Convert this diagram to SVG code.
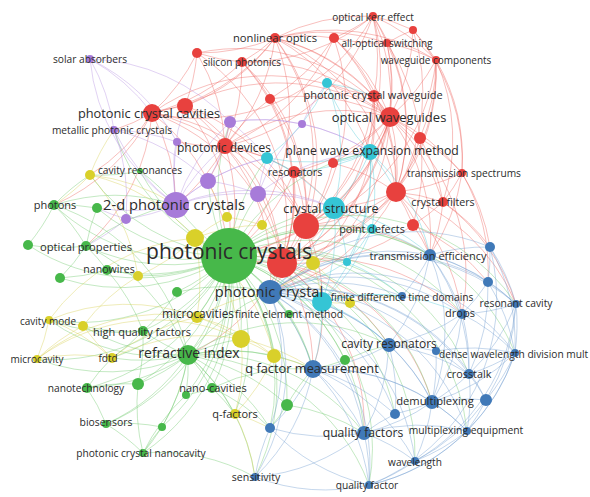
<svg xmlns="http://www.w3.org/2000/svg" width="590" height="497" viewBox="0 0 590 497">
<style>
#connectors path{fill:none;stroke-width:1;stroke-opacity:.4}
.er path{stroke:#ee5f5b}.eg path{stroke:#6cc86a}.eb path{stroke:#6f9ccf}.ey path{stroke:#d6d050}.ep path{stroke:#b38ee2}.ec path{stroke:#4fcbd9}
.r{fill:#e8413e}.g{fill:#47b84a}.b{fill:#4079b8}.y{fill:#d9d02a}.p{fill:#a77bd9}.c{fill:#35c5d5}
text{font-family:"Open Sans","Liberation Sans",sans-serif;fill:#2b2b2b;text-anchor:middle;font-size:10.2px}
</style>
<rect width="590" height="497" fill="#fff"/>
<g id="connectors">
<g class="er">
<path d="M275 38A200 200 0 0 1 373 16"/><path d="M275 38A200 200 0 0 1 334 38"/><path d="M275 38A200 200 0 0 1 387 43"/><path d="M275 38A200 200 0 0 1 436 60"/><path d="M275 38A200 200 0 0 1 242 62"/><path d="M275 38A200 200 0 0 1 152 113"/><path d="M275 38A200 200 0 0 1 390 117"/><path d="M275 38A200 200 0 0 1 225 146"/><path d="M275 38A200 200 0 0 1 306 226"/><path d="M275 38A200 200 0 0 1 282 263"/><path d="M275 38A200 200 0 0 1 396 192"/><path d="M275 38A200 200 0 0 1 229 256"/><path d="M275 38A200 200 0 0 1 374 96"/><path d="M275 38A200 200 0 0 1 185 106"/><path d="M275 38A200 200 0 0 1 197 53"/><path d="M275 38A200 200 0 0 1 370 152"/>
<path d="M373 16A200 200 0 0 1 334 38"/><path d="M373 16A200 200 0 0 1 387 43"/><path d="M373 16A200 200 0 0 1 413 30"/><path d="M373 16A200 200 0 0 1 390 117"/><path d="M373 16A200 200 0 0 1 374 96"/><path d="M373 16A200 200 0 0 1 225 146"/><path d="M373 16A200 200 0 0 1 396 192"/><path d="M373 16A200 200 0 0 1 306 226"/><path d="M373 16A200 200 0 0 1 436 60"/><path d="M373 16A200 200 0 0 1 242 62"/><path d="M373 16A200 200 0 0 1 152 113"/>
<path d="M387 43A200 200 0 0 1 413 30"/><path d="M387 43A200 200 0 0 1 436 60"/><path d="M387 43A200 200 0 0 1 390 117"/><path d="M387 43A200 200 0 0 1 396 192"/><path d="M387 43A200 200 0 0 1 282 263"/><path d="M387 43A200 200 0 0 1 420 138"/><path d="M387 43A200 200 0 0 1 334 38"/>
<path d="M334 38A200 200 0 0 1 390 117"/><path d="M334 38A200 200 0 0 1 306 226"/><path d="M334 38A200 200 0 0 1 225 146"/><path d="M334 38A200 200 0 0 1 374 96"/><path d="M334 38A200 200 0 0 1 396 192"/><path d="M334 38A200 200 0 0 1 270 99"/>
<path d="M413 30A200 200 0 0 1 436 60"/><path d="M413 30A200 200 0 0 1 390 117"/><path d="M413 30A200 200 0 0 1 396 192"/><path d="M413 30A200 200 0 0 1 462 173"/>
<path d="M436 60A200 200 0 0 1 390 117"/><path d="M436 60A200 200 0 0 1 396 192"/><path d="M436 60A200 200 0 0 1 462 173"/><path d="M436 60A200 200 0 0 1 420 138"/><path d="M436 60A200 200 0 0 1 306 226"/><path d="M436 60A200 200 0 0 1 443 202"/><path d="M436 60A200 200 0 0 1 282 263"/>
<path d="M242 62A200 200 0 0 1 197 53"/><path d="M242 62A200 200 0 0 1 152 113"/><path d="M242 62A200 200 0 0 1 225 146"/><path d="M242 62A200 200 0 0 1 390 117"/><path d="M242 62A200 200 0 0 1 306 226"/><path d="M242 62A200 200 0 0 1 282 263"/><path d="M242 62A200 200 0 0 1 270 99"/>
<path d="M197 53A200 200 0 0 1 152 113"/><path d="M197 53A200 200 0 0 1 225 146"/><path d="M197 53A200 200 0 0 1 282 263"/><path d="M197 53A200 200 0 0 1 390 117"/><path d="M197 53A200 200 0 0 1 185 106"/>
<path d="M152 113A200 200 0 0 1 185 106"/><path d="M152 113A200 200 0 0 1 225 146"/><path d="M152 113A200 200 0 0 1 176 205"/><path d="M152 113A200 200 0 0 1 229 256"/><path d="M152 113A200 200 0 0 1 282 263"/><path d="M152 113A200 200 0 0 1 306 226"/><path d="M152 113A200 200 0 0 1 390 117"/><path d="M152 113A200 200 0 0 1 114 130"/><path d="M152 113A200 200 0 0 1 90 175"/><path d="M152 113A200 200 0 0 1 86 246"/><path d="M152 113A200 200 0 0 1 54 205"/>
<path d="M185 106A200 200 0 0 1 225 146"/><path d="M185 106A200 200 0 0 1 306 226"/><path d="M185 106A200 200 0 0 1 282 263"/><path d="M185 106A200 200 0 0 1 390 117"/><path d="M185 106A200 200 0 0 1 229 256"/>
<path d="M374 96A200 200 0 0 1 390 117"/><path d="M374 96A200 200 0 0 1 370 152"/><path d="M374 96A200 200 0 0 1 396 192"/><path d="M374 96A200 200 0 0 1 306 226"/><path d="M374 96A200 200 0 0 1 327 83"/><path d="M374 96A200 200 0 0 1 282 263"/><path d="M374 96A200 200 0 0 1 270 292"/>
<path d="M390 117A200 200 0 0 1 420 138"/><path d="M390 117A200 200 0 0 1 370 152"/><path d="M390 117A200 200 0 0 1 396 192"/><path d="M390 117A200 200 0 0 1 443 202"/><path d="M390 117A200 200 0 0 1 306 226"/><path d="M390 117A200 200 0 0 1 282 263"/><path d="M390 117A200 200 0 0 1 294 172"/><path d="M390 117A200 200 0 0 1 462 173"/><path d="M390 117A200 200 0 0 1 229 256"/><path d="M390 117A200 200 0 0 1 270 292"/><path d="M390 117A200 200 0 0 1 430 255"/><path d="M390 117A200 200 0 0 1 334 208"/><path d="M390 117A200 200 0 0 1 333 163"/><path d="M390 117A200 200 0 0 1 462 314"/>
<path d="M420 138A200 200 0 0 1 396 192"/><path d="M420 138A200 200 0 0 1 462 173"/><path d="M420 138A200 200 0 0 1 443 202"/><path d="M420 138A200 200 0 0 1 413 225"/>
<path d="M225 146A200 200 0 0 1 230 122"/><path d="M225 146A200 200 0 0 1 208 181"/><path d="M225 146A200 200 0 0 1 306 226"/><path d="M225 146A200 200 0 0 1 282 263"/><path d="M225 146A200 200 0 0 1 229 256"/><path d="M225 146A200 200 0 0 1 176 205"/><path d="M225 146A200 200 0 0 1 294 172"/><path d="M225 146A200 200 0 0 1 267 158"/><path d="M225 146A200 200 0 0 1 390 117"/><path d="M225 146A200 200 0 0 1 270 292"/><path d="M225 146A200 200 0 0 1 270 99"/><path d="M225 146A200 200 0 0 1 177 142"/>
<path d="M270 99A200 200 0 0 1 306 226"/><path d="M270 99A200 200 0 0 1 390 117"/><path d="M270 99A200 200 0 0 1 282 263"/>
<path d="M333 163A200 200 0 0 1 306 226"/><path d="M333 163A200 200 0 0 1 396 192"/>
<path d="M294 172A200 200 0 0 1 306 226"/><path d="M294 172A200 200 0 0 1 282 263"/><path d="M294 172A200 200 0 0 1 334 208"/><path d="M294 172A200 200 0 0 1 229 256"/>
<path d="M462 173A200 200 0 0 1 396 192"/><path d="M462 173A200 200 0 0 1 443 202"/><path d="M462 173A200 200 0 0 1 430 255"/><path d="M462 173A200 200 0 0 1 490 247"/><path d="M462 173A200 200 0 0 1 488 282"/>
<path d="M396 192A200 200 0 0 1 443 202"/><path d="M396 192A200 200 0 0 1 413 225"/><path d="M396 192A200 200 0 0 1 306 226"/><path d="M396 192A200 200 0 0 1 282 263"/><path d="M396 192A200 200 0 0 1 334 208"/><path d="M396 192A200 200 0 0 1 430 255"/><path d="M396 192A200 200 0 0 1 270 292"/><path d="M396 192A200 200 0 0 1 229 256"/><path d="M396 192A200 200 0 0 1 516 304"/><path d="M396 192A200 200 0 0 1 462 314"/>
<path d="M443 202A200 200 0 0 1 413 225"/><path d="M443 202A200 200 0 0 1 430 255"/><path d="M443 202A200 200 0 0 1 490 247"/><path d="M443 202A200 200 0 0 1 516 304"/>
<path d="M413 225A200 200 0 0 1 282 263"/><path d="M413 225A200 200 0 0 1 430 255"/><path d="M413 225A200 200 0 0 1 488 282"/>
<path d="M306 226A200 200 0 0 1 229 256"/><path d="M306 226A200 200 0 0 1 282 263"/><path d="M306 226A200 200 0 0 1 270 292"/><path d="M306 226A200 200 0 0 1 334 208"/><path d="M306 226A200 200 0 0 1 313 263"/><path d="M306 226A200 200 0 0 1 430 255"/><path d="M306 226A200 200 0 0 1 313 369"/>
<path d="M282 263A200 200 0 0 1 229 256"/><path d="M282 263A200 200 0 0 1 270 292"/><path d="M282 263A200 200 0 0 1 188 355"/><path d="M282 263A200 200 0 0 1 313 369"/><path d="M282 263A200 200 0 0 1 389 345"/><path d="M282 263A200 200 0 0 1 432 402"/><path d="M282 263A200 200 0 0 1 462 314"/><path d="M282 263A200 200 0 0 1 364 433"/><path d="M282 263A200 200 0 0 1 322 302"/>
</g>
<g class="eg">
<path d="M229 256A200 200 0 0 1 176 205"/><path d="M229 256A200 200 0 0 1 188 355"/><path d="M229 256A200 200 0 0 1 270 292"/><path d="M229 256A200 200 0 0 1 195 238"/><path d="M229 256A200 200 0 0 1 241 339"/><path d="M229 256A200 200 0 0 1 197 317"/><path d="M229 256A200 200 0 0 1 54 205"/><path d="M229 256A200 200 0 0 1 86 246"/><path d="M229 256A200 200 0 0 1 107 270"/><path d="M229 256A200 200 0 0 1 87 388"/><path d="M229 256A200 200 0 0 1 212 388"/><path d="M229 256A200 200 0 0 1 106 424"/><path d="M229 256A200 200 0 0 1 143 453"/><path d="M229 256A200 200 0 0 1 235 414"/><path d="M229 256A200 200 0 0 1 313 369"/><path d="M229 256A200 200 0 0 1 364 433"/><path d="M229 256A200 200 0 0 1 389 345"/><path d="M229 256A200 200 0 0 1 432 402"/><path d="M229 256A200 200 0 0 1 255 477"/><path d="M229 256A200 200 0 0 1 143 331"/><path d="M229 256A200 200 0 0 1 112 358"/><path d="M229 256A200 200 0 0 1 37 359"/><path d="M229 256A200 200 0 0 1 49 320"/><path d="M229 256A200 200 0 0 1 97 208"/><path d="M229 256A200 200 0 0 1 28 245"/><path d="M229 256A200 200 0 0 1 60 278"/><path d="M229 256A200 200 0 0 1 138 384"/><path d="M229 256A200 200 0 0 1 186 395"/><path d="M229 256A200 200 0 0 1 162 427"/><path d="M229 256A200 200 0 0 1 177 292"/><path d="M229 256A200 200 0 0 1 345 360"/><path d="M229 256A200 200 0 0 1 287 405"/><path d="M229 256A200 200 0 0 1 270 428"/><path d="M229 256A200 200 0 0 1 322 302"/><path d="M229 256A200 200 0 0 1 402 296"/><path d="M229 256A200 200 0 0 1 334 208"/><path d="M229 256A200 200 0 0 1 208 181"/><path d="M229 256A200 200 0 0 1 258 194"/><path d="M229 256A200 200 0 0 1 90 175"/><path d="M229 256A200 200 0 0 1 140 171"/><path d="M229 256A200 200 0 0 1 114 130"/><path d="M229 256A200 200 0 0 1 462 314"/><path d="M229 256A200 200 0 0 1 516 304"/><path d="M229 256A200 200 0 0 1 469 374"/><path d="M229 256A200 200 0 0 1 515 353"/><path d="M229 256A200 200 0 0 1 369 485"/><path d="M229 256A200 200 0 0 1 415 461"/><path d="M229 256A200 200 0 0 1 430 255"/><path d="M229 256A200 200 0 0 1 370 152"/><path d="M229 256A200 200 0 0 1 230 122"/><path d="M229 256A200 200 0 0 1 267 158"/><path d="M229 256A200 200 0 0 1 138 276"/><path d="M229 256A200 200 0 0 1 274 356"/><path d="M229 256A200 200 0 0 1 395 414"/><path d="M229 256A200 200 0 0 1 467 431"/><path d="M229 256A200 200 0 0 1 372 229"/><path d="M229 256A200 200 0 0 1 347 262"/><path d="M229 256A200 200 0 0 1 289 314"/>
<path d="M188 355A200 200 0 0 1 87 388"/><path d="M188 355A200 200 0 0 1 138 384"/><path d="M188 355A200 200 0 0 1 212 388"/><path d="M188 355A200 200 0 0 1 186 395"/><path d="M188 355A200 200 0 0 1 106 424"/><path d="M188 355A200 200 0 0 1 162 427"/><path d="M188 355A200 200 0 0 1 143 453"/><path d="M188 355A200 200 0 0 1 241 339"/><path d="M188 355A200 200 0 0 1 274 356"/><path d="M188 355A200 200 0 0 1 313 369"/><path d="M188 355A200 200 0 0 1 270 292"/><path d="M188 355A200 200 0 0 1 112 358"/><path d="M188 355A200 200 0 0 1 37 359"/><path d="M188 355A200 200 0 0 1 49 320"/><path d="M188 355A200 200 0 0 1 83 326"/><path d="M188 355A200 200 0 0 1 143 331"/><path d="M188 355A200 200 0 0 1 364 433"/><path d="M188 355A200 200 0 0 1 255 477"/><path d="M188 355A200 200 0 0 1 270 428"/><path d="M188 355A200 200 0 0 1 287 405"/><path d="M188 355A200 200 0 0 1 369 485"/><path d="M188 355A200 200 0 0 1 389 345"/><path d="M188 355A200 200 0 0 1 235 414"/>
<path d="M54 205A200 200 0 0 1 97 208"/><path d="M54 205A200 200 0 0 1 176 205"/><path d="M54 205A200 200 0 0 1 86 246"/><path d="M54 205A200 200 0 0 1 28 245"/><path d="M54 205A200 200 0 0 1 188 355"/><path d="M54 205A200 200 0 0 1 90 175"/>
<path d="M86 246A200 200 0 0 1 28 245"/><path d="M86 246A200 200 0 0 1 107 270"/><path d="M86 246A200 200 0 0 1 60 278"/><path d="M86 246A200 200 0 0 1 176 205"/><path d="M86 246A200 200 0 0 1 188 355"/><path d="M86 246A200 200 0 0 1 97 208"/>
<path d="M107 270A200 200 0 0 1 60 278"/><path d="M107 270A200 200 0 0 1 138 276"/><path d="M107 270A200 200 0 0 1 143 331"/>
<path d="M143 331A200 200 0 0 1 83 326"/><path d="M143 331A200 200 0 0 1 112 358"/><path d="M143 331A200 200 0 0 1 138 384"/><path d="M143 331A200 200 0 0 1 49 320"/>
<path d="M87 388A200 200 0 0 1 138 384"/><path d="M87 388A200 200 0 0 1 106 424"/><path d="M87 388A200 200 0 0 1 112 358"/>
<path d="M106 424A200 200 0 0 1 162 427"/><path d="M106 424A200 200 0 0 1 143 453"/>
<path d="M143 453A200 200 0 0 1 162 427"/><path d="M143 453A200 200 0 0 1 186 395"/><path d="M143 453A200 200 0 0 1 138 384"/><path d="M143 453A200 200 0 0 1 255 477"/>
<path d="M287 405A200 200 0 0 1 313 369"/><path d="M287 405A200 200 0 0 1 364 433"/><path d="M287 405A200 200 0 0 1 270 428"/>
<path d="M345 360A200 200 0 0 1 313 369"/><path d="M345 360A200 200 0 0 1 389 345"/>
<path d="M177 292A200 200 0 0 1 143 331"/><path d="M177 292A200 200 0 0 1 270 292"/>
<path d="M140 171A200 200 0 0 1 90 175"/><path d="M140 171A200 200 0 0 1 176 205"/>
<path d="M212 388A200 200 0 0 1 186 395"/><path d="M212 388A200 200 0 0 1 235 414"/><path d="M212 388A200 200 0 0 1 313 369"/><path d="M212 388A200 200 0 0 1 270 428"/>
<path d="M289 314A200 200 0 0 1 270 292"/><path d="M289 314A200 200 0 0 1 313 369"/>
</g>
<g class="ey">
<path d="M90 175A200 200 0 0 1 176 205"/><path d="M90 175A200 200 0 0 1 54 205"/><path d="M90 175A200 200 0 0 1 195 238"/><path d="M90 175A200 200 0 0 1 114 130"/><path d="M90 175A200 200 0 0 1 138 276"/>
<path d="M49 320A200 200 0 0 1 83 326"/><path d="M49 320A200 200 0 0 1 37 359"/><path d="M49 320A200 200 0 0 1 112 358"/><path d="M49 320A200 200 0 0 1 195 238"/><path d="M49 320A200 200 0 0 1 197 317"/>
<path d="M37 359A200 200 0 0 1 83 326"/><path d="M37 359A200 200 0 0 1 112 358"/><path d="M37 359A200 200 0 0 1 241 339"/><path d="M37 359A200 200 0 0 1 197 317"/>
<path d="M112 358A200 200 0 0 1 241 339"/><path d="M112 358A200 200 0 0 1 197 317"/><path d="M112 358A200 200 0 0 1 83 326"/>
<path d="M195 238A200 200 0 0 1 197 317"/><path d="M195 238A200 200 0 0 1 241 339"/><path d="M195 238A200 200 0 0 1 274 356"/><path d="M195 238A200 200 0 0 1 138 276"/><path d="M195 238A200 200 0 0 1 227 217"/><path d="M195 238A200 200 0 0 1 262 225"/>
<path d="M197 317A200 200 0 0 1 241 339"/><path d="M197 317A200 200 0 0 1 274 356"/><path d="M197 317A200 200 0 0 1 270 292"/>
<path d="M241 339A200 200 0 0 1 274 356"/><path d="M241 339A200 200 0 0 1 313 369"/><path d="M241 339A200 200 0 0 1 235 414"/>
<path d="M274 356A200 200 0 0 1 313 369"/><path d="M274 356A200 200 0 0 1 235 414"/>
<path d="M235 414A200 200 0 0 1 270 428"/><path d="M235 414A200 200 0 0 1 255 477"/>
<path d="M313 263A200 200 0 0 1 322 302"/><path d="M313 263A200 200 0 0 1 350 303"/><path d="M313 263A200 200 0 0 1 270 292"/><path d="M313 263A200 200 0 0 1 262 225"/>
<path d="M350 303A200 200 0 0 1 402 296"/><path d="M350 303A200 200 0 0 1 322 302"/>
<path d="M227 217A200 200 0 0 1 262 225"/><path d="M227 217A200 200 0 0 1 208 181"/><path d="M83 326A200 200 0 0 1 138 276"/>
</g>
<g class="ep">
<path d="M176 205A200 200 0 0 1 90 59"/><path d="M176 205A200 200 0 0 1 114 130"/><path d="M176 205A200 200 0 0 1 230 122"/><path d="M176 205A200 200 0 0 1 208 181"/><path d="M176 205A200 200 0 0 1 258 194"/><path d="M176 205A200 200 0 0 1 177 142"/><path d="M176 205A200 200 0 0 1 126 219"/><path d="M176 205A200 200 0 0 1 97 208"/><path d="M176 205A200 200 0 0 1 225 146"/><path d="M176 205A200 200 0 0 1 185 106"/><path d="M176 205A200 200 0 0 1 267 158"/><path d="M176 205A200 200 0 0 1 334 208"/>
<path d="M90 59A200 200 0 0 1 114 130"/><path d="M90 59A200 200 0 0 1 177 142"/><path d="M90 59A200 200 0 0 1 230 122"/><path d="M90 59A200 200 0 0 1 152 113"/>
<path d="M114 130A200 200 0 0 1 177 142"/><path d="M114 130A200 200 0 0 1 208 181"/><path d="M114 130A200 200 0 0 1 126 219"/>
<path d="M230 122A200 200 0 0 1 302 124"/><path d="M230 122A200 200 0 0 1 208 181"/><path d="M230 122A200 200 0 0 1 267 158"/><path d="M230 122A200 200 0 0 1 370 152"/>
<path d="M208 181A200 200 0 0 1 258 194"/><path d="M208 181A200 200 0 0 1 267 158"/>
<path d="M258 194A200 200 0 0 1 267 158"/><path d="M258 194A200 200 0 0 1 334 208"/><path d="M258 194A200 200 0 0 1 370 152"/><path d="M258 194A200 200 0 0 1 302 124"/>
<path d="M302 124A200 200 0 0 1 370 152"/><path d="M302 124A200 200 0 0 1 327 83"/>
<path d="M126 219A200 200 0 0 1 97 208"/><path d="M126 219A200 200 0 0 1 86 246"/>
</g>
<g class="ec">
<path d="M370 152A200 200 0 0 1 327 83"/><path d="M370 152A200 200 0 0 1 267 158"/><path d="M370 152A200 200 0 0 1 334 208"/><path d="M370 152A200 200 0 0 1 372 229"/><path d="M370 152A200 200 0 0 1 347 262"/><path d="M370 152A200 200 0 0 1 322 302"/><path d="M370 152A200 200 0 0 1 396 192"/><path d="M370 152A200 200 0 0 1 294 172"/><path d="M370 152A200 200 0 0 1 333 163"/><path d="M370 152A200 200 0 0 1 430 255"/>
<path d="M327 83A200 200 0 0 1 267 158"/><path d="M327 83A200 200 0 0 1 334 208"/><path d="M327 83A200 200 0 0 1 374 96"/>
<path d="M267 158A200 200 0 0 1 334 208"/><path d="M267 158A200 200 0 0 1 294 172"/>
<path d="M334 208A200 200 0 0 1 372 229"/><path d="M334 208A200 200 0 0 1 347 262"/><path d="M334 208A200 200 0 0 1 322 302"/><path d="M334 208A200 200 0 0 1 430 255"/><path d="M334 208A200 200 0 0 1 270 292"/>
<path d="M372 229A200 200 0 0 1 347 262"/><path d="M372 229A200 200 0 0 1 430 255"/><path d="M372 229A200 200 0 0 1 322 302"/>
<path d="M322 302A200 200 0 0 1 402 296"/><path d="M322 302A200 200 0 0 1 270 292"/><path d="M322 302A200 200 0 0 1 462 314"/><path d="M322 302A200 200 0 0 1 389 345"/><path d="M322 302A200 200 0 0 1 313 369"/>
<path d="M347 262A200 200 0 0 1 270 292"/><path d="M347 262A200 200 0 0 1 402 296"/>
</g>
<g class="eb">
<path d="M270 292A200 200 0 0 1 430 255"/><path d="M270 292A200 200 0 0 1 490 247"/><path d="M270 292A200 200 0 0 1 488 282"/><path d="M270 292A200 200 0 0 1 462 314"/><path d="M270 292A200 200 0 0 1 402 296"/><path d="M270 292A200 200 0 0 1 389 345"/><path d="M270 292A200 200 0 0 1 313 369"/><path d="M270 292A200 200 0 0 1 432 402"/><path d="M270 292A200 200 0 0 1 364 433"/><path d="M270 292A200 200 0 0 1 469 374"/><path d="M270 292A200 200 0 0 1 395 414"/><path d="M270 292A200 200 0 0 1 270 428"/><path d="M270 292A200 200 0 0 1 255 477"/><path d="M270 292A200 200 0 0 1 369 485"/><path d="M270 292A200 200 0 0 1 415 461"/><path d="M270 292A200 200 0 0 1 467 431"/><path d="M270 292A200 200 0 0 1 515 353"/><path d="M270 292A200 200 0 0 1 436 351"/><path d="M270 292A200 200 0 0 1 486 400"/><path d="M270 292A200 200 0 0 1 516 304"/>
<path d="M430 255A200 200 0 0 1 490 247"/><path d="M430 255A200 200 0 0 1 488 282"/><path d="M430 255A200 200 0 0 1 516 304"/><path d="M430 255A200 200 0 0 1 462 314"/><path d="M430 255A200 200 0 0 1 402 296"/><path d="M430 255A200 200 0 0 1 389 345"/><path d="M430 255A200 200 0 0 1 469 374"/><path d="M430 255A200 200 0 0 1 432 402"/>
<path d="M490 247A200 200 0 0 1 488 282"/><path d="M490 247A200 200 0 0 1 516 304"/><path d="M490 247A200 200 0 0 1 515 353"/><path d="M490 247A200 200 0 0 1 369 485"/>
<path d="M488 282A200 200 0 0 1 516 304"/><path d="M488 282A200 200 0 0 1 462 314"/><path d="M488 282A200 200 0 0 1 515 353"/><path d="M488 282A200 200 0 0 1 469 374"/>
<path d="M516 304A200 200 0 0 1 462 314"/><path d="M516 304A200 200 0 0 1 515 353"/><path d="M516 304A200 200 0 0 1 469 374"/><path d="M516 304A200 200 0 0 1 486 400"/><path d="M516 304A200 200 0 0 1 415 461"/>
<path d="M462 314A200 200 0 0 1 389 345"/><path d="M462 314A200 200 0 0 1 436 351"/><path d="M462 314A200 200 0 0 1 469 374"/><path d="M462 314A200 200 0 0 1 432 402"/><path d="M462 314A200 200 0 0 1 515 353"/>
<path d="M389 345A200 200 0 0 1 436 351"/><path d="M389 345A200 200 0 0 1 313 369"/><path d="M389 345A200 200 0 0 1 469 374"/><path d="M389 345A200 200 0 0 1 432 402"/><path d="M389 345A200 200 0 0 1 364 433"/><path d="M389 345A200 200 0 0 1 395 414"/>
<path d="M436 351A200 200 0 0 1 515 353"/><path d="M436 351A200 200 0 0 1 469 374"/><path d="M436 351A200 200 0 0 1 432 402"/>
<path d="M515 353A200 200 0 0 1 469 374"/><path d="M515 353A200 200 0 0 1 486 400"/><path d="M515 353A200 200 0 0 1 467 431"/><path d="M515 353A200 200 0 0 1 432 402"/><path d="M515 353A200 200 0 0 1 369 485"/>
<path d="M313 369A200 200 0 0 1 432 402"/><path d="M313 369A200 200 0 0 1 364 433"/><path d="M313 369A200 200 0 0 1 395 414"/><path d="M313 369A200 200 0 0 1 270 428"/><path d="M313 369A200 200 0 0 1 255 477"/><path d="M313 369A200 200 0 0 1 415 461"/><path d="M313 369A200 200 0 0 1 369 485"/><path d="M313 369A200 200 0 0 1 467 431"/>
<path d="M469 374A200 200 0 0 1 432 402"/><path d="M469 374A200 200 0 0 1 486 400"/><path d="M469 374A200 200 0 0 1 467 431"/>
<path d="M432 402A200 200 0 0 1 486 400"/><path d="M432 402A200 200 0 0 1 395 414"/><path d="M432 402A200 200 0 0 1 364 433"/><path d="M432 402A200 200 0 0 1 467 431"/><path d="M432 402A200 200 0 0 1 415 461"/>
<path d="M486 400A200 200 0 0 1 467 431"/><path d="M486 400A200 200 0 0 1 415 461"/>
<path d="M364 433A200 200 0 0 1 467 431"/><path d="M364 433A200 200 0 0 1 415 461"/><path d="M364 433A200 200 0 0 1 369 485"/><path d="M364 433A200 200 0 0 1 255 477"/><path d="M364 433A200 200 0 0 1 270 428"/><path d="M364 433A200 200 0 0 1 395 414"/>
<path d="M467 431A200 200 0 0 1 415 461"/><path d="M467 431A200 200 0 0 1 369 485"/>
<path d="M415 461A200 200 0 0 1 369 485"/>
<path d="M369 485A200 200 0 0 1 255 477"/><path d="M369 485A200 200 0 0 1 270 428"/>
<path d="M255 477A200 200 0 0 1 270 428"/>
</g>
</g>
<g id="nodes">
<g id="n-r4"><circle class="r" cx="334" cy="38" r="5"/></g>
<g id="n-r5"><circle class="r" cx="413" cy="30" r="4"/></g>
<g id="n-r8"><circle class="r" cx="197" cy="53" r="5"/></g>
<g id="n-r10"><circle class="r" cx="185" cy="106" r="8"/></g>
<g id="n-r13"><circle class="r" cx="420" cy="138" r="6"/></g>
<g id="n-r15"><circle class="r" cx="270" cy="99" r="5"/></g>
<g id="n-r16"><circle class="r" cx="333" cy="163" r="5"/></g>
<g id="n-r19"><circle class="r" cx="396" cy="192" r="10"/></g>
<g id="n-r21"><circle class="r" cx="413" cy="225" r="6"/></g>
<g id="n-r22"><circle class="r" cx="306" cy="226" r="13"/></g>
<g id="n-r23"><circle class="r" cx="282" cy="263" r="15"/></g>
<g id="n-g3"><circle class="g" cx="97" cy="208" r="5"/></g>
<g id="n-g5"><circle class="g" cx="28" cy="245" r="5"/></g>
<g id="n-g7"><circle class="g" cx="60" cy="278" r="5"/></g>
<g id="n-g12"><circle class="g" cx="138" cy="384" r="6"/></g>
<g id="n-g14"><circle class="g" cx="186" cy="395" r="4"/></g>
<g id="n-g16"><circle class="g" cx="162" cy="427" r="4"/></g>
<g id="n-g18"><circle class="g" cx="177" cy="292" r="5"/></g>
<g id="n-g19"><circle class="g" cx="345" cy="360" r="5"/></g>
<g id="n-g20"><circle class="g" cx="287" cy="405" r="6"/></g>
<g id="n-y1"><circle class="y" cx="90" cy="175" r="5"/></g>
<g id="n-y3"><circle class="y" cx="83" cy="326" r="5"/></g>
<g id="n-y6"><circle class="y" cx="138" cy="276" r="5"/></g>
<g id="n-y7"><circle class="y" cx="227" cy="217" r="5"/></g>
<g id="n-y8"><circle class="y" cx="262" cy="225" r="5"/></g>
<g id="n-y9"><circle class="y" cx="195" cy="238" r="9"/></g>
<g id="n-y10"><circle class="y" cx="313" cy="263" r="7"/></g>
<g id="n-y11"><circle class="y" cx="350" cy="303" r="5"/></g>
<g id="n-y13"><circle class="y" cx="241" cy="339" r="9"/></g>
<g id="n-y14"><circle class="y" cx="274" cy="356" r="7"/></g>
<g id="n-p4"><circle class="p" cx="230" cy="122" r="6"/></g>
<g id="n-p5"><circle class="p" cx="208" cy="181" r="8"/></g>
<g id="n-p6"><circle class="p" cx="258" cy="194" r="8"/></g>
<g id="n-p7"><circle class="p" cx="302" cy="124" r="4"/></g>
<g id="n-p8"><circle class="p" cx="177" cy="142" r="4"/></g>
<g id="n-p9"><circle class="p" cx="126" cy="219" r="5"/></g>
<g id="n-c2"><circle class="c" cx="327" cy="83" r="5"/></g>
<g id="n-c3"><circle class="c" cx="267" cy="158" r="6"/></g>
<g id="n-c6"><circle class="c" cx="347" cy="262" r="4"/></g>
<g id="n-c7"><circle class="c" cx="322" cy="302" r="10"/></g>
<g id="n-b3"><circle class="b" cx="490" cy="247" r="5"/></g>
<g id="n-b4"><circle class="b" cx="488" cy="282" r="5"/></g>
<g id="n-b9"><circle class="b" cx="436" cy="351" r="4"/></g>
<g id="n-b14"><circle class="b" cx="486" cy="400" r="6"/></g>
<g id="n-b15"><circle class="b" cx="395" cy="414" r="5"/></g>
<g id="n-b21"><circle class="b" cx="270" cy="428" r="5"/></g>

<g id="n-optical-kerr-effect"><circle class="r" cx="373" cy="16" r="4"/><text x="373" y="20.5" style="font-size:10px">optical kerr effect</text></g>
<g id="n-all-optical-switching"><circle class="r" cx="387" cy="43" r="4"/><text x="387" y="46.5" style="font-size:10px">all-optical switching</text></g>
<g id="n-waveguide-components"><circle class="r" cx="436" cy="60" r="4"/><text x="436" y="64" style="font-size:10px">waveguide components</text></g>
<g id="n-silicon-photonics"><circle class="r" cx="242" cy="62" r="5"/><text x="242" y="65.5" style="font-size:10px">silicon photonics</text></g>
<g id="n-solar-absorbers"><circle class="p" cx="90" cy="59" r="4"/><text x="90" y="62.5">solar absorbers</text></g>
<g id="n-metallic-photonic-crystals"><circle class="p" cx="114" cy="130" r="4"/><text x="112" y="133.5">metallic photonic crystals</text></g>
<g id="n-cavity-resonances"><circle class="g" cx="140" cy="171" r="3"/><text x="140" y="173.6">cavity resonances</text></g>
<g id="n-transmission-spectrums"><circle class="r" cx="462" cy="173" r="4"/><text x="464" y="176.6">transmission spectrums</text></g>
<g id="n-crystal-filters"><circle class="r" cx="443" cy="202" r="5"/><text x="443" y="205.7" style="font-size:10.7px">crystal filters</text></g>
<g id="n-photons"><circle class="g" cx="54" cy="205" r="5"/><text x="55" y="208.8" style="font-size:11px">photons</text></g>
<g id="n-optical-properties"><circle class="g" cx="86" cy="246" r="5"/><text x="86" y="251" style="font-size:11.2px">optical properties</text></g>
<g id="n-nanowires"><circle class="g" cx="107" cy="270" r="5"/><text x="109" y="272.7" style="font-size:10.6px">nanowires</text></g>
<g id="n-point-defects"><circle class="c" cx="372" cy="229" r="5"/><text x="372" y="232.8" style="font-size:10.8px">point defects</text></g>
<g id="n-resonators"><circle class="r" cx="294" cy="172" r="6"/><text x="295" y="175.8" style="font-size:10.8px">resonators</text></g>
<g id="n-transmission-efficiency"><circle class="b" cx="430" cy="255" r="6"/><text x="428" y="259.9" style="font-size:11px">transmission efficiency</text></g>
<g id="n-finite-difference-time-domains"><circle class="b" cx="402" cy="296" r="4"/><text x="402" y="300.6">finite difference time domains</text></g>
<g id="n-resonant-cavity"><circle class="b" cx="516" cy="304" r="4"/><text x="516" y="306.6" style="font-size:10.3px">resonant cavity</text></g>
<g id="n-drops"><circle class="b" cx="462" cy="314" r="5"/><text x="460" y="316.8" style="font-size:11px">drops</text></g>
<g id="n-microcavities"><circle class="y" cx="197" cy="317" r="6"/><text x="198" y="318.1" style="font-size:11.8px">microcavities</text></g>
<g id="n-finite-element-method"><circle class="g" cx="289" cy="314" r="4"/><text x="289" y="317.6" style="font-size:10.4px">finite element method</text></g>
<g id="n-cavity-mode"><circle class="y" cx="49" cy="320" r="4"/><text x="48" y="324.5" style="font-size:10px">cavity mode</text></g>
<g id="n-high-quality-factors"><circle class="g" cx="143" cy="331" r="5"/><text x="142" y="335.9" style="font-size:11px">high quality factors</text></g>
<g id="n-dense-wavelength-division-mult"><circle class="b" cx="515" cy="353" r="4"/><text x="439" y="357.6" style="text-anchor:start">dense wavelength division mult</text></g>
<g id="n-microcavity"><circle class="y" cx="37" cy="359" r="4"/><text x="37" y="362.5" style="font-size:10px">microcavity</text></g>
<g id="n-fdtd"><circle class="y" cx="112" cy="358" r="5"/><text x="108" y="361.5" style="font-size:10px">fdtd</text></g>
<g id="n-crosstalk"><circle class="b" cx="469" cy="374" r="5"/><text x="469" y="377.8" style="font-size:10.8px">crosstalk</text></g>
<g id="n-nanotechnology"><circle class="g" cx="87" cy="388" r="5"/><text x="86" y="391.6">nanotechnology</text></g>
<g id="n-nano-cavities"><circle class="g" cx="212" cy="388" r="5"/><text x="213" y="391.8" style="font-size:11px">nano-cavities</text></g>
<g id="n-demultiplexing"><circle class="b" cx="432" cy="402" r="7"/><text x="435" y="405" style="font-size:11.2px">demultiplexing</text></g>
<g id="n-q-factors"><circle class="y" cx="235" cy="414" r="5"/><text x="235" y="417.8" style="font-size:11px">q-factors</text></g>
<g id="n-biosensors"><circle class="g" cx="106" cy="424" r="4"/><text x="106" y="425.6" style="font-size:10.4px">biosensors</text></g>
<g id="n-multiplexing-equipment"><circle class="b" cx="467" cy="431" r="4"/><text x="466" y="433.6" style="font-size:10.3px">multiplexing equipment</text></g>
<g id="n-photonic-crystal-nanocavity"><circle class="g" cx="143" cy="453" r="4"/><text x="141" y="456.6">photonic crystal nanocavity</text></g>
<g id="n-wavelength"><circle class="b" cx="415" cy="461" r="4"/><text x="415" y="465.5" style="font-size:10.1px">wavelength</text></g>
<g id="n-sensitivity"><circle class="b" cx="255" cy="477" r="4"/><text x="256" y="480.7" style="font-size:10.6px">sensitivity</text></g>
<g id="n-quality-factor"><circle class="b" cx="369" cy="485" r="4"/><text x="367" y="488.6">quality factor</text></g>
<g id="n-nonlinear-optics"><circle class="r" cx="275" cy="38" r="5"/><text x="275" y="41.5" style="font-size:11.2px">nonlinear optics</text></g>
<g id="n-photonic-crystal-waveguide"><circle class="r" cx="374" cy="96" r="6"/><text x="373" y="98.5" style="font-size:11px">photonic crystal waveguide</text></g>
<g id="n-photonic-devices"><circle class="r" cx="225" cy="146" r="8"/><text x="224" y="152" style="font-size:12px">photonic devices</text></g>
<g id="n-plane-wave-expansion-method"><circle class="c" cx="370" cy="152" r="8"/><text x="372" y="155.3" style="font-size:12.2px">plane wave expansion method</text></g>
<g id="n-cavity-resonators"><circle class="b" cx="389" cy="345" r="7"/><text x="389" y="348.2" style="font-size:12px">cavity resonators</text></g>
<g id="n-quality-factors"><circle class="b" cx="364" cy="433" r="7"/><text x="363" y="437.3" style="font-size:12.2px">quality factors</text></g>
<g id="n-q-factor-measurement"><circle class="b" cx="313" cy="369" r="9"/><text x="312" y="372.5" style="font-size:12.8px">q factor measurement</text></g>
<g id="n-crystal-structure"><circle class="c" cx="334" cy="208" r="11"/><text x="331" y="213.4" style="font-size:12.6px">crystal structure</text></g>
<g id="n-photonic-crystal-cavities"><circle class="r" cx="152" cy="113" r="9"/><text x="149" y="117.5" style="font-size:12.8px">photonic crystal cavities</text></g>
<g id="n-optical-waveguides"><circle class="r" cx="390" cy="117" r="10"/><text x="389" y="121.5" style="font-size:13px">optical waveguides</text></g>
<g id="n-refractive-index"><circle class="g" cx="188" cy="355" r="10"/><text x="189" y="357.9" style="font-size:14px">refractive index</text></g>
<g id="n-photonic-crystal"><circle class="b" cx="270" cy="292" r="12"/><text x="269" y="297.1" style="font-size:14.6px">photonic crystal</text></g>
<g id="n-2d-photonic-crystals"><circle class="p" cx="176" cy="205" r="13"/><text x="174" y="210" style="font-size:14.7px">2-d photonic crystals</text></g>
<g id="n-photonic-crystals"><circle class="g" cx="229" cy="256" r="28"/><text x="229" y="259.4" style="font-size:21px">photonic crystals</text></g>
</g>
</svg>
